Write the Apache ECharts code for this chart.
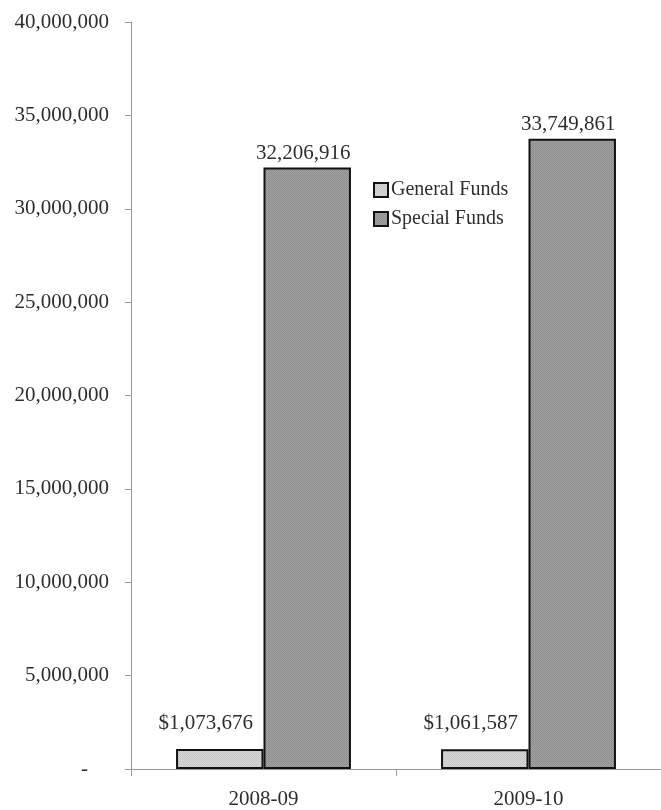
<!DOCTYPE html>
<html>
<head>
<meta charset="utf-8">
<script src="https://cdn.jsdelivr.net/npm/echarts@6/dist/echarts.min.js"></script>
<style>
  html, body { margin: 0; padding: 0; background: #fff; }
  #chart { width: 661px; height: 810px; }
</style>
</head>
<body>
<div id="chart"></div>
<script>
// Fiscal years and fund totals
const years = ['2008-09', '2009-10'];
const generalFunds = [1073676, 1061587];
const specialFunds = [32206916, 33749861];
const yTicks = { min: 0, max: 40000000, interval: 5000000 };

// Fine stippled fill for the bars
function stipple(a, b) {
  const c = document.createElement('canvas');
  c.width = 2; c.height = 2;
  const g = c.getContext('2d');
  g.fillStyle = a; g.fillRect(0, 0, 2, 2);
  g.fillStyle = b; g.fillRect(0, 0, 1, 1); g.fillRect(1, 1, 1, 1);
  return { image: c, repeat: 'repeat' };
}

const serif = '"Liberation Serif", "DejaVu Serif", serif';
const ink = '#2e2e2e';
const fmt = v => v.toLocaleString('en-US');

const chart = echarts.init(document.getElementById('chart'));
chart.setOption({
  animation: false,
  textStyle: { fontFamily: serif },
  grid: { left: 131, top: 22, bottom: 41, width: 535 },
  legend: {
    orient: 'vertical',
    left: 368, top: 175,
    itemWidth: 14, itemHeight: 14, itemGap: 9,
    icon: 'rect',
    textStyle: { fontFamily: serif, fontSize: 20, color: ink, padding: [0, 0, 0, -2] },
    data: ['General Funds', 'Special Funds']
  },
  xAxis: {
    type: 'category',
    data: years,
    axisLine: { lineStyle: { color: '#999', width: 1 } },
    axisTick: { show: true, length: 7, lineStyle: { color: '#999' } },
    axisLabel: { fontFamily: serif, fontSize: 21, color: ink, margin: 20 }
  },
  yAxis: {
    type: 'value',
    min: yTicks.min, max: yTicks.max, interval: yTicks.interval,
    axisLine: { show: true, lineStyle: { color: '#999', width: 1 } },
    axisTick: { show: true, length: 6, lineStyle: { color: '#999' } },
    splitLine: { show: false },
    axisLabel: {
      fontFamily: serif, fontSize: 21, color: ink, margin: 22,
      // accounting-style zero: a dash set in from the right edge
      formatter: v => v === 0 ? '-\u00a0\u00a0\u00a0\u00a0' : fmt(v)
    }
  },
  series: [
    {
      name: 'General Funds',
      type: 'bar',
      data: generalFunds,
      barWidth: '33%',
      barGap: '0%',
      itemStyle: { color: stipple('#d6d6d6', '#c8c8c8'), borderColor: '#111', borderWidth: 2 },
      label: {
        show: true, position: 'top', distance: 5, offset: [-14, -10],
        fontFamily: serif, fontSize: 21, color: ink,
        formatter: p => '$' + fmt(p.value)
      }
    },
    {
      name: 'Special Funds',
      type: 'bar',
      data: specialFunds,
      barWidth: '33%',
      itemStyle: { color: stipple('#a2a2a2', '#8e8e8e'), borderColor: '#111', borderWidth: 2 },
      label: {
        show: true, position: 'top', distance: 4, offset: [-4, 0],
        fontFamily: serif, fontSize: 21, color: ink,
        formatter: p => fmt(p.value)
      }
    }
  ]
});
</script>
</body>
</html>
